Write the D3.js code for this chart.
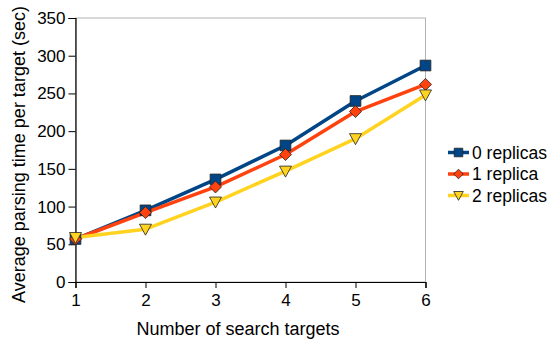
<!DOCTYPE html>
<html>
<head>
<meta charset="utf-8">
<script src="https://cdn.jsdelivr.net/npm/d3@7"></script>
<style>
  body { margin: 0; background: #fff; }
  text { font-family: "Liberation Sans", Arial, sans-serif; }
</style>
</head>
<body>
<svg id="chart" width="548" height="341"></svg>
<script>
// Number of search targets
const targets = [1, 2, 3, 4, 5, 6];
// Average parsing time per target (sec) for each replica setting
const replicas0 = [57, 95, 136, 181, 240, 287];
const replicas1 = [57, 92, 126, 169, 226, 262];
const replicas2 = [59, 70, 106, 147, 190, 248];
const seriesNames = ["0 replicas", "1 replica", "2 replicas"];
const yTicks = [0, 50, 100, 150, 200, 250, 300, 350];

const series = [
  { name: seriesNames[0], values: replicas0, color: "#004586", marker: "square" },
  { name: seriesNames[1], values: replicas1, color: "#ff420e", marker: "diamond" },
  { name: seriesNames[2], values: replicas2, color: "#ffd320", marker: "triangle" }
];

const svg = d3.select("#chart");
const m = { left: 75.5, right: 425.5, top: 18, bottom: 282 };

const x = d3.scaleLinear().domain([1, 6]).range([m.left, m.right]);
const y = d3.scaleLinear().domain([0, 350]).range([m.bottom, m.top]);

// plot frame: grey top/right, black left/bottom
svg.append("rect")
  .attr("x", m.left).attr("y", m.top)
  .attr("width", m.right - m.left).attr("height", m.bottom - m.top)
  .attr("fill", "none").attr("stroke", "#b3b3b3").attr("stroke-width", 1);

const yAxis = svg.append("g")
  .attr("transform", `translate(${m.left},0)`)
  .call(d3.axisLeft(y).tickValues(yTicks).tickSize(7).tickPadding(3).tickFormat(d3.format("d")));
const xAxis = svg.append("g")
  .attr("transform", `translate(0,${m.bottom})`)
  .call(d3.axisBottom(x).tickValues(targets).tickSize(6).tickPadding(6).tickFormat(d3.format("d")));

[yAxis, xAxis].forEach(g => {
  g.select(".domain").attr("stroke", "#000").attr("stroke-width", 1.2);
  g.selectAll(".tick line").attr("stroke", "#000");
  g.selectAll(".tick text")
    .attr("font-family", "'Liberation Sans', Arial, sans-serif")
    .attr("font-size", 17).attr("fill", "#000");
});

// axis titles
svg.append("text")
  .attr("x", 238).attr("y", 335)
  .attr("text-anchor", "middle").attr("font-size", 18)
  .text("Number of search targets");
svg.append("text")
  .attr("transform", `translate(25,154.5) rotate(-90)`)
  .attr("text-anchor", "middle").attr("font-size", 18)
  .text("Average parsing time per target (sec)");

const markerPath = {
  square: d3.symbol().type(d3.symbolSquare).size(115)(),
  diamond: "M0,-6L6,0L0,6L-6,0Z",
  triangle: "M-6,-5L6,-5L0,6Z"
};

const line = d3.line().x((d, i) => x(targets[i])).y(d => y(d));

series.forEach(s => {
  svg.append("path")
    .attr("d", line(s.values))
    .attr("fill", "none").attr("stroke", s.color)
    .attr("stroke-width", 3.5).attr("stroke-linejoin", "round");
});
series.forEach(s => {
  svg.append("g").selectAll("path")
    .data(s.values).join("path")
    .attr("transform", (d, i) => `translate(${x(targets[i])},${y(d)})`)
    .attr("d", markerPath[s.marker])
    .attr("fill", s.color).attr("stroke", "#222").attr("stroke-width", 0.8);
});

// legend
const legend = svg.append("g");
series.forEach((s, i) => {
  const ly = 152.5 + i * 21.5;
  legend.append("line")
    .attr("x1", 448).attr("x2", 469).attr("y1", ly).attr("y2", ly)
    .attr("stroke", s.color).attr("stroke-width", 3.5);
  legend.append("path")
    .attr("transform", `translate(458.5,${ly}) scale(0.8)`)
    .attr("d", markerPath[s.marker])
    .attr("fill", s.color).attr("stroke", "#222").attr("stroke-width", 1);
  legend.append("text")
    .attr("x", 472).attr("y", ly + 6)
    .attr("font-size", 17.5)
    .text(s.name);
});
</script>
</body>
</html>
